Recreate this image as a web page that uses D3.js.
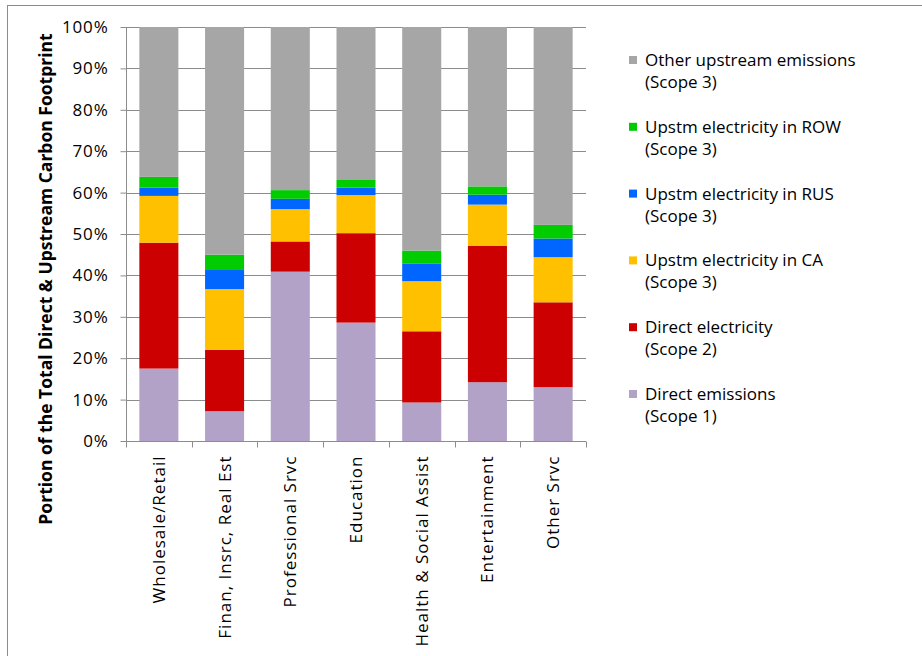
<!DOCTYPE html>
<html>
<head>
<meta charset="utf-8">
<script src="https://cdn.jsdelivr.net/npm/d3@7"></script>
<style>
  body { margin: 0; background: #fff; }
  svg text { font-family: "Open Sans", "DejaVu Sans", sans-serif; fill: #000; }
</style>
</head>
<body>
<svg id="chart" width="922" height="656"></svg>
<script>
// categories (x axis)
const categories = ["Wholesale/Retail", "Finan, Insrc, Real Est", "Professional Srvc", "Education",
                    "Health & Social Assist", "Entertainment", "Other Srvc"];

// series, bottom to top, shares in %
const directEmissions = [17.5, 7.2, 40.9, 28.6, 9.3, 14.2, 13.0];
const directElectricity = [30.4, 14.8, 7.3, 21.6, 17.2, 32.9, 20.5];
const upstmCA = [11.3, 14.7, 7.8, 9.2, 12.1, 10.0, 10.9];
const upstmRUS = [2.0, 4.6, 2.5, 1.8, 4.2, 2.4, 4.5];
const upstmROW = [2.6, 3.7, 2.1, 2.0, 3.2, 2.0, 3.3];
const otherUpstream = [36.2, 55.0, 39.4, 36.8, 54.0, 38.5, 47.8];

const seriesNames = ["Direct emissions", "Direct electricity", "Upstm electricity in CA",
                     "Upstm electricity in RUS", "Upstm electricity in ROW", "Other upstream emissions"];
const seriesScopes = ["(Scope 1)", "(Scope 2)", "(Scope 3)", "(Scope 3)", "(Scope 3)", "(Scope 3)"];
const seriesColors = ["#b3a2c7", "#cc0000", "#ffc000", "#0066ff", "#00cc00", "#a6a6a6"];
const seriesValues = [directEmissions, directElectricity, upstmCA, upstmRUS, upstmROW, otherUpstream];

const yTicks = [0, 10, 20, 30, 40, 50, 60, 70, 80, 90, 100];

const svg = d3.select("#chart");

// outer frame
svg.append("rect")
  .attr("x", 7.5).attr("y", 5.5)
  .attr("width", 940).attr("height", 700)
  .attr("fill", "none").attr("stroke", "#8c8c8c").attr("stroke-width", 1);

const plot = { left: 126, right: 586, top: 27, bottom: 441 };

const x = d3.scaleBand().domain(categories).range([plot.left, plot.right]).paddingInner(0.406).paddingOuter(0.203);
const y = d3.scaleLinear().domain([0, 100]).range([plot.bottom, plot.top]);

// gridlines
svg.append("g")
  .selectAll("line")
  .data(yTicks)
  .join("line")
  .attr("x1", plot.left).attr("x2", plot.right)
  .attr("y1", d => Math.round(y(d)) + 0.5).attr("y2", d => Math.round(y(d)) + 0.5)
  .attr("stroke", "#8c8c8c").attr("stroke-width", 1);

// stacked bars
const rows = categories.map((c, i) => {
  const r = { cat: c };
  seriesNames.forEach((s, j) => { r[s] = seriesValues[j][i]; });
  return r;
});
const stacked = d3.stack().keys(seriesNames)(rows);

svg.append("g")
  .selectAll("g")
  .data(stacked)
  .join("g")
  .attr("fill", (d, i) => seriesColors[i])
  .selectAll("rect")
  .data(d => d)
  .join("rect")
  .attr("x", d => x(d.data.cat))
  .attr("width", x.bandwidth())
  .attr("y", d => y(d[1]))
  .attr("height", d => y(d[0]) - y(d[1]));

// y axis
const yAxis = svg.append("g")
  .attr("transform", `translate(${plot.left + 0.5},0)`)
  .call(d3.axisLeft(y).tickValues(yTicks).tickFormat(d => d + "%").tickSize(6).tickPadding(12));
yAxis.selectAll("path, line").attr("stroke", "#8c8c8c");
yAxis.select(".domain").attr("d", `M0,${plot.top}V${plot.bottom}`);
yAxis.selectAll("text")
  .attr("font-size", 17)
  .attr("letter-spacing", 0.8)
  .style("font-family", "'Open Sans', sans-serif");

// x axis
const bandStep = x.step();
const xAxis = svg.append("g").attr("transform", `translate(0,${plot.bottom + 0.5})`);
xAxis.append("line")
  .attr("x1", plot.left).attr("x2", plot.right)
  .attr("stroke", "#8c8c8c");
xAxis.selectAll(".tk")
  .data(d3.range(categories.length + 1))
  .join("line")
  .attr("class", "tk")
  .attr("x1", i => Math.round(plot.left + i * bandStep) + 0.5)
  .attr("x2", i => Math.round(plot.left + i * bandStep) + 0.5)
  .attr("y1", 0).attr("y2", 6)
  .attr("stroke", "#8c8c8c");
xAxis.selectAll("text")
  .data(categories)
  .join("text")
  .attr("transform", d => `translate(${x(d) + x.bandwidth() / 2 + 6},14) rotate(-90)`)
  .attr("text-anchor", "end")
  .attr("font-size", 17)
  .attr("letter-spacing", 1.0)
  .text(d => d);

// y axis title
svg.append("text")
  .attr("transform", `translate(52,279) rotate(-90)`)
  .attr("text-anchor", "middle")
  .attr("font-size", 17.5)
  .attr("font-weight", "bold")
  .text("Portion of the Total Direct & Upstream Carbon Footprint");

// legend, top entry is the top series
const legend = svg.append("g");
const order = d3.range(seriesNames.length).reverse();
const item = legend.selectAll("g")
  .data(order)
  .join("g")
  .attr("transform", (d, k) => `translate(629,${66 + k * 66.8})`);
item.append("rect")
  .attr("x", 0).attr("y", -10)
  .attr("width", 8).attr("height", 8)
  .attr("fill", d => seriesColors[d]);
item.append("text")
  .attr("x", 16).attr("y", 0)
  .attr("font-size", 17)
  .text(d => seriesNames[d]);
item.append("text")
  .attr("x", 16).attr("y", 22)
  .attr("font-size", 17)
  .text(d => seriesScopes[d]);
</script>
</body>
</html>
